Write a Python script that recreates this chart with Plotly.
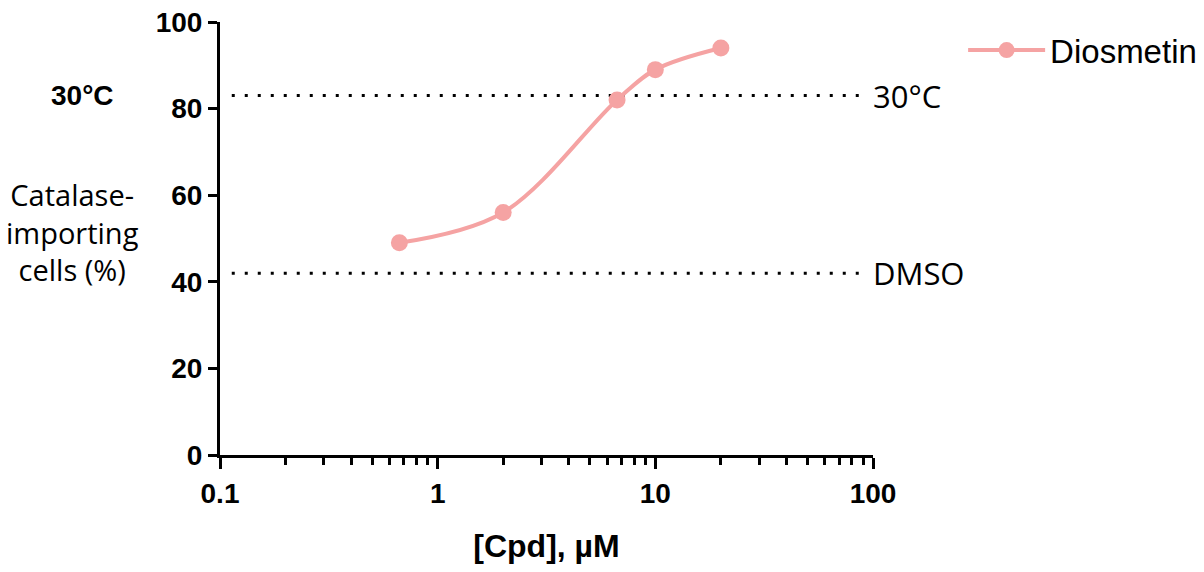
import plotly.graph_objects as go

# Data
conc_uM = [0.667, 2.0, 6.67, 10.0, 20.0]
pct_import = [49, 56, 82, 89, 94]
series_name = "Diosmetin"
ref_levels = [83, 42]
ref_labels = ["30°C", "DMSO"]
y_ticks = [0, 20, 40, 60, 80, 100]
x_ticks = [0.1, 1, 10, 100]
x_ticklabels = ["0.1", "1", "10", "100"]

PINK = "#F5A3A3"
BOLD = "Liberation Sans, Arial, sans-serif"
CAL = "Open Sans, Lato, sans-serif"

fig = go.Figure()
fig.add_trace(go.Scatter(
    x=conc_uM, y=pct_import, mode="lines+markers", name=series_name,
    line=dict(color=PINK, width=4, shape="spline", smoothing=1.0),
    marker=dict(color=PINK, size=17),
    cliponaxis=False,
))

for lvl, lab in zip(ref_levels, ref_labels):
    fig.add_shape(type="line", xref="paper", yref="y", x0=0.018, x1=0.985, y0=lvl, y1=lvl,
                  line=dict(color="black", width=3, dash="3px,10px"), layer="below")
    fig.add_annotation(xref="paper", yref="y", x=0.997, y=lvl, text=lab, showarrow=False,
                       xanchor="left", yanchor="middle",
                       font=dict(family=CAL, size=31, color="black"))

fig.add_annotation(xref="paper", yref="paper", x=-0.226, y=0.515, text="Catalase-<br>importing<br>cells (%)",
                   showarrow=False, xanchor="center", yanchor="middle", align="center",
                   font=dict(family=CAL, size=29, color="black"))
fig.add_annotation(xref="paper", yref="y", x=-0.21, y=83, text="<b>30°C</b>", showarrow=False,
                   xanchor="center", yanchor="middle",
                   font=dict(family=BOLD, size=28, color="black"))

fig.update_layout(
    width=1204, height=572,
    margin=dict(l=220, r=331, t=22, b=117, autoexpand=False),
    plot_bgcolor="white", paper_bgcolor="white",
    showlegend=True,
    legend=dict(x=1.138, y=0.935, xanchor="left", yanchor="middle",
                font=dict(family=BOLD, size=33, color="black"),
                bgcolor="rgba(0,0,0,0)", itemwidth=77),
    xaxis=dict(type="log", range=[-1, 2], tickvals=x_ticks, ticktext=x_ticklabels, automargin=False,
               ticks="outside", ticklen=11, tickwidth=3, tickcolor="black",
               showline=True, linewidth=3, linecolor="black", showgrid=False, zeroline=False,
               tickfont=dict(family=BOLD, size=28, color="black", weight="bold"),
               minor=dict(ticks="outside", ticklen=7, tickwidth=3, tickcolor="black", dtick="D1", showgrid=False),
               title=dict(text="<b>[Cpd], µM</b>", standoff=28,
                          font=dict(family=BOLD, size=32, color="black"))),
    yaxis=dict(range=[0, 100], tickvals=y_ticks, automargin=False,
               ticks="outside", ticklen=9, tickwidth=3, tickcolor="black",
               showline=True, linewidth=3, linecolor="black", showgrid=False, zeroline=False,
               tickfont=dict(family=BOLD, size=28, color="black", weight="bold")),
)

fig.write_html("out.html")
